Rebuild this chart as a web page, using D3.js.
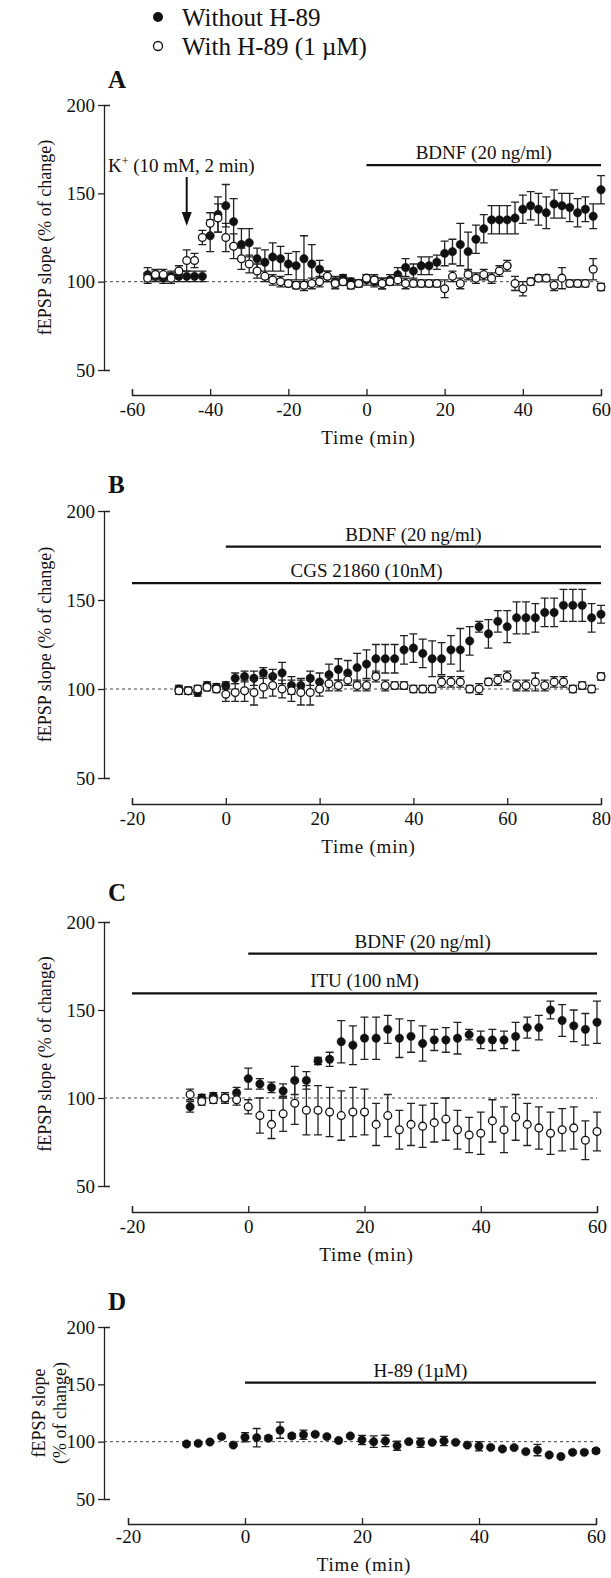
<!DOCTYPE html>
<html>
<head>
<meta charset="utf-8">
<script src="https://cdn.jsdelivr.net/npm/d3@7"></script>
<style>
  body { margin: 0; background: #fff; }
  .chart text { font-family: "Liberation Serif", "Times New Roman", serif; fill: #111; }
</style>
</head>
<body>
<svg class="chart"></svg>
<script>
// ---- panel A ----
var timesA = [-56,-54,-52,-50,-48,-46,-44,-42,-40,-38,-36,-34,-32,-30,-28,-26,-24,-22,-20,-18,-16,-14,-12,-10,-8,-6,-4,-2,
    0,2,4,6,8,10,12,14,16,18,20,22,24,26,28,30,32,34,36,38,40,42,44,46,48,50,52,54,56,58,60];
var withoutA = [104,103,102,103,103,103,103,103,
    126,138,143,134,121,122,113,111,114,113,110,109,113,110,107,103,100,102,100,99,
    101,100,99,101,104,108,106,109,109,111,116,117,121,117,124,130,135,135,135,136,141,143,141,139,144,143,142,139,141,137,152];
var withoutAErr = [4,3,3,3,3,3,3,3,
    9,10,12,13,9,8,6,7,8,7,6,8,13,11,5,3,3,2,2,2,
    3,3,3,3,4,5,4,5,5,4,7,7,12,11,8,8,8,8,8,9,8,8,9,9,8,7,8,8,7,7,8];
var withA = [102,104,104,102,106,112,112,125,
    133,136,125,120,113,110,106,103,101,100,99,98,98,99,100,103,99,100,98,99,
    102,101,99,100,101,99,99,99,99,99,96,103,99,104,102,104,102,106,109,99,96,100,102,102,98,102,99,99,99,107,97];
var withAErr = [3,3,3,3,3,6,4,4,
    6,8,8,7,6,5,4,3,3,3,2,2,3,3,3,3,3,2,2,2,
    2,3,3,2,3,3,2,2,2,2,5,3,3,3,3,3,3,3,3,4,4,2,2,2,3,6,2,2,2,6,2];
var ticksA = [-60,-40,-20,0,20,40,60];

// ---- panel B ----
var timesB = [-10,-8,-6,-4,-2,0,2,4,6,8,10,12,14,16,18,20,22,24,26,28,30,32,34,36,38,40,
    42,44,46,48,50,52,54,56,58,60,62,64,66,68,70,72,74,76,78,80];
var withoutB = [100,99,98,102,101,102,106,107,106,109,107,109,102,102,106,104,108,111,109,112,114,117,117,117,122,123,
    120,117,117,122,122,127,135,131,138,135,140,140,140,143,143,147,147,147,140,142];
var withoutBErr = [2,2,2,2,2,2,3,3,4,3,4,6,5,4,4,5,6,6,7,8,8,8,8,8,8,8,
    8,10,9,8,12,8,3,8,6,9,9,9,8,8,8,9,9,9,8,5];
var withB = [99,99,100,101,100,97,98,99,98,101,102,100,99,98,98,100,103,102,105,102,102,107,102,102,102,100,
    100,100,104,104,104,100,100,104,105,107,102,102,104,102,104,104,100,102,100,107];
var withBErr = [2,2,2,2,2,4,5,6,7,6,6,5,6,7,7,4,4,3,3,3,3,3,3,2,2,2,
    2,2,3,3,3,2,3,2,3,3,3,3,5,3,3,3,2,2,2,2];
var ticksB = [-20,0,20,40,60,80];

// ---- panel C ----
var timesC = [-10,-8,-6,-4,-2,0,2,4,6,8,10,12,14,16,18,20,22,24,26,28,30,32,34,36,38,40,42,44,46,48,50,52,54,56,58,60];
var withoutC = [95,100,101,100,103,111,108,106,104,110,110,121,122,132,130,134,134,139,134,135,131,133,133,134,136,133,
    133,133,135,140,140,150,144,141,139,143];
var withoutCErr = [3,2,2,2,3,6,3,3,4,8,5,2,4,12,11,12,12,8,11,9,10,6,7,9,3,5,6,5,8,6,7,5,9,9,9,12];
var withC = [102,98,99,100,99,95,90,85,91,97,93,93,92,90,92,92,85,90,82,85,84,86,88,82,79,80,87,82,89,85,83,80,82,83,76,81];
var withCErr = [3,2,2,3,3,4,10,8,10,12,14,14,14,14,14,13,12,12,11,12,12,11,12,11,10,12,12,13,13,12,12,12,12,12,11,11];
var ticksC = [-20,0,20,40,60];

// ---- panel D ----
var timesD = [-10,-8,-6,-4,-2,0,2,4,6,8,10,12,14,16,18,20,22,24,26,28,30,32,34,36,38,40,42,44,46,48,50,52,54,56,58,60];
var withoutD = [98,98.5,99.7,104.4,97,103.8,103.5,103,110,105,106,106.4,104.4,101,105,101.5,100,100.6,96.5,100,
    99,99.4,100.6,99.4,97,96,95,93.6,94.8,91.3,92.7,88.4,87,90.7,90.7,92];
var withoutDErr = [1,1,1,1,1,4,8,2,7,2,4,1,1,1,1,4,5,5,4,1,4,1,4,1,1,4,1,1,1,1,5,1,1,1,1,2];
var ticksD = [-20,0,20,40,60];

// treatment bars: label, start, end (min)
var barsA = [["BDNF (20 ng/ml)", 0, 60]];
var barsB = [["BDNF (20 ng/ml)", 0, 80], ["CGS 21860 (10nM)", -20, 80]];
var barsC = [["BDNF (20 ng/ml)", 0, 60], ["ITU (100 nM)", -20, 60]];
var barsD = [["H-89 (1\u00b5M)", 0, 60]];

var yTicks = [50, 100, 150, 200];
var legendLabels = ["Without H-89", "With H-89 (1 \u00b5M)"];

function show() {

    'use strict';

    var width = 611, height = 1578;

    var chart = d3.select(".chart")
        .attr("width", width)
        .attr("height", height);

    // legend
    var legend = chart.append("g");
    legend.append("circle").attr("cx", 158).attr("cy", 17).attr("r", 5).style("fill", "#111");
    legend.append("circle").attr("cx", 158).attr("cy", 46).attr("r", 4.5)
        .style("fill", "#fff").style("stroke", "#111").style("stroke-width", 1.3);
    legend.selectAll("text").data(legendLabels).enter().append("text")
        .attr("x", 182)
        .attr("y", function(d, i) { return 26 + i * 29; })
        .style("font-size", "25px")
        .text(function(d) { return d; });

    var panels = [
        {letter: "A", letterY: 88, times: timesA, filled: withoutA, filledErr: withoutAErr, open: withA, openErr: withAErr,
         xDomain: [-60, 60], xTicks: ticksA, xRange: [132, 601], yRange: [370, 105], axisY: 395, bars: barsA, barLevels: [166]},
        {letter: "B", letterY: 493, times: timesB, filled: withoutB, filledErr: withoutBErr, open: withB, openErr: withBErr,
         xDomain: [-20, 80], xTicks: ticksB, xRange: [132, 601], yRange: [778, 511], axisY: 804, bars: barsB, barLevels: [180, 159.5]},
        {letter: "C", letterY: 901, times: timesC, filled: withoutC, filledErr: withoutCErr, open: withC, openErr: withCErr,
         xDomain: [-20, 60], xTicks: ticksC, xRange: [132, 597], yRange: [1186, 922], axisY: 1212, bars: barsC, barLevels: [182, 159.5]},
        {letter: "D", letterY: 1310, times: timesD, filled: withoutD, filledErr: withoutDErr, open: null, openErr: null,
         xDomain: [-20, 60], xTicks: ticksD, xRange: [128, 596], yRange: [1499, 1327], axisY: 1524, bars: barsD, barLevels: [151.5],
         splitLabel: true, tickPad: 6, timeOffset: 47}
    ];

    panels.forEach(drawPanel);

    // K+ application arrow in panel A
    var xA = d3.scaleLinear().domain(panels[0].xDomain).range(panels[0].xRange);
    var kx = xA(-46);
    chart.append("path")
        .attr("d", "M" + kx + ",177V216")
        .style("stroke", "#111").style("stroke-width", 2);
    chart.append("path")
        .attr("d", "M" + (kx - 5) + ",212L" + (kx + 5) + ",212L" + kx + ",226Z")
        .style("fill", "#111");
    var kText = chart.append("text").attr("x", 108).attr("y", 172).style("font-size", "19px");
    kText.append("tspan").text("K");
    kText.append("tspan").attr("dy", -7).style("font-size", "12px").text("+");
    kText.append("tspan").attr("dy", 7).text(" (10 mM, 2 min)");

    function drawPanel(p) {
        var g = chart.append("g");
        var x = d3.scaleLinear().domain(p.xDomain).range(p.xRange);
        var y = d3.scaleLinear().domain([50, 200]).range(p.yRange);
        var axisX = 104;
        var plain = function(d) { return String(d); };

        g.append("text")
            .attr("x", 108).attr("y", p.letterY)
            .style("font-size", "25px").style("font-weight", "bold")
            .text(p.letter);

        // y axis
        var yAxis = g.append("g")
            .attr("transform", "translate(" + axisX + ",0)")
            .call(d3.axisLeft(y).tickValues(yTicks).tickFormat(plain)
                .tickSizeInner(6).tickSizeOuter(-6).tickPadding(3));
        // x axis
        var xAxis = g.append("g")
            .attr("transform", "translate(0," + p.axisY + ")")
            .call(d3.axisBottom(x).tickValues(p.xTicks).tickFormat(plain)
                .tickSizeInner(-6).tickSizeOuter(-6).tickPadding(p.tickPad || 8));
        [yAxis, xAxis].forEach(function(a) {
            a.attr("font-family", null).attr("font-size", null);
            a.selectAll("path, line").style("stroke", "#222").style("stroke-width", 1.3);
            a.selectAll("text").style("font-size", "19px").style("fill", "#111");
        });

        g.append("text")
            .attr("x", (p.xRange[0] + p.xRange[1]) / 2 + 2)
            .attr("y", p.axisY + (p.timeOffset || 49))
            .attr("text-anchor", "middle")
            .style("font-size", "19px")
            .style("letter-spacing", "0.8px")
            .text("Time (min)");

        var yMid = (p.yRange[0] + p.yRange[1]) / 2;
        if (p.splitLabel) {
            ["fEPSP slope", "(% of change)"].forEach(function(t, i) {
                g.append("text")
                    .attr("transform", "translate(" + (45 + i * 21) + "," + yMid + ") rotate(-90)")
                    .attr("text-anchor", "middle")
                    .style("font-size", "18px")
                    .text(t);
            });
        } else {
            g.append("text")
                .attr("transform", "translate(51," + yMid + ") rotate(-90)")
                .attr("text-anchor", "middle")
                .style("font-size", "18px")
                .text("fEPSP slope (% of change)");
        }

        // baseline 100 %
        g.append("line")
            .attr("x1", axisX).attr("x2", p.xRange[1])
            .attr("y1", y(100)).attr("y2", y(100))
            .style("stroke", "#444").style("stroke-width", 1)
            .style("stroke-dasharray", "3,3");

        // treatment bars
        p.bars.forEach(function(b, i) {
            var yy = y(p.barLevels[i]);
            g.append("line")
                .attr("x1", x(b[1])).attr("x2", x(b[2]))
                .attr("y1", yy).attr("y2", yy)
                .style("stroke", "#111").style("stroke-width", 2.2);
            g.append("text")
                .attr("x", x((b[1] + b[2]) / 2))
                .attr("y", yy - 6)
                .attr("text-anchor", "middle")
                .style("font-size", "19px")
                .text(b[0]);
        });

        drawSeries(g, x, y, p.times, p.filled, p.filledErr, true);
        if (p.open) drawSeries(g, x, y, p.times, p.open, p.openErr, false);
    }

    function drawSeries(g, x, y, times, values, errs, filled) {
        var pts = times.map(function(t, i) { return {t: t, v: values[i], e: errs[i]}; });
        var cap = 4;

        g.append("g").selectAll("path").data(pts).enter().append("path")
            .attr("d", function(d) {
                var cx = x(d.t), y0 = y(d.v - d.e), y1 = y(d.v + d.e);
                return "M" + cx + "," + y0 + "V" + y1
                    + "M" + (cx - cap) + "," + y1 + "H" + (cx + cap)
                    + "M" + (cx - cap) + "," + y0 + "H" + (cx + cap);
            })
            .style("stroke", "#222").style("stroke-width", 1.3).style("fill", "none");

        g.append("g").selectAll("circle").data(pts).enter().append("circle")
            .attr("cx", function(d) { return x(d.t); })
            .attr("cy", function(d) { return y(d.v); })
            .attr("r", filled ? 4.2 : 3.9)
            .style("fill", filled ? "#111" : "#fff")
            .style("stroke", "#111")
            .style("stroke-width", filled ? 0.5 : 1.3);
    }
}

show();
</script>
</body>
</html>
